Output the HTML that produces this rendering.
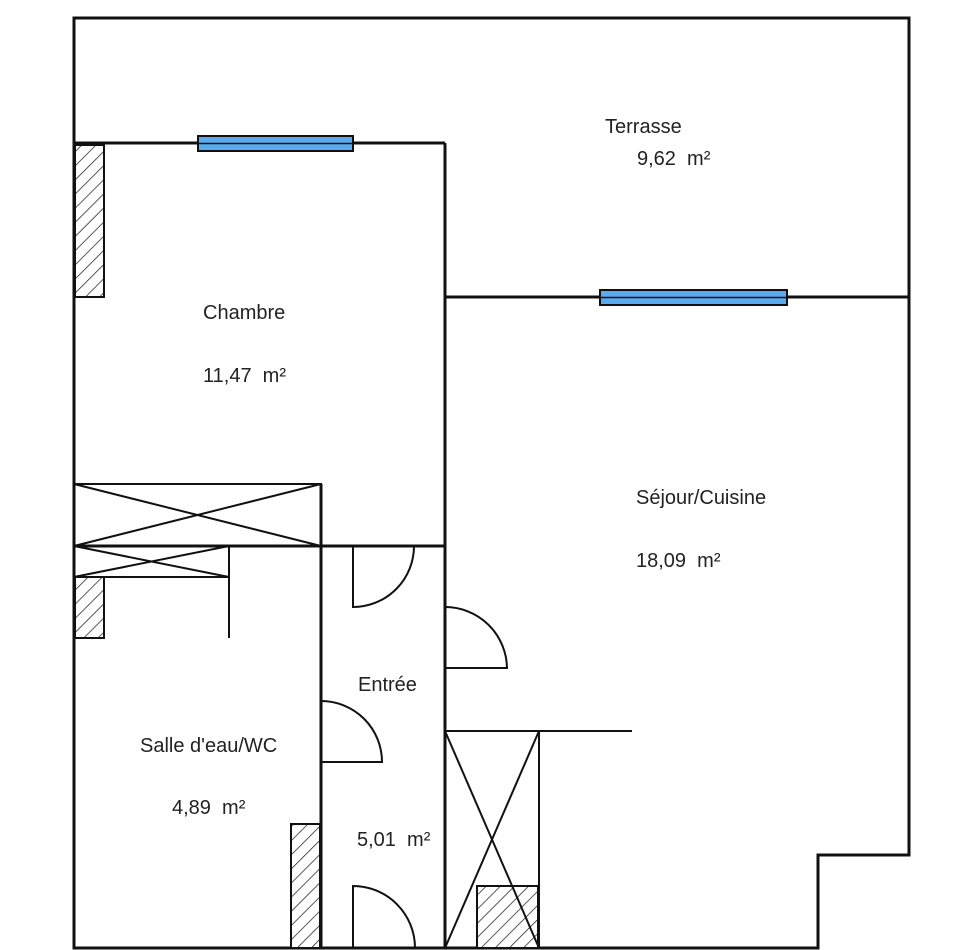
<!DOCTYPE html>
<html><head><meta charset="utf-8"><style>
html,body{margin:0;padding:0;background:#fff;width:956px;height:950px;overflow:hidden}
text{font-family:"Liberation Sans",sans-serif;font-size:20px;fill:#222;white-space:pre}
</style></head><body>
<svg width="956" height="950" viewBox="0 0 956 950" xmlns="http://www.w3.org/2000/svg" xml:space="preserve">
<defs>
<pattern id="h" patternUnits="userSpaceOnUse" width="10" height="10" patternTransform="rotate(45)">
<rect width="10" height="10" fill="#fff"/><line x1="0" y1="0" x2="0" y2="10" stroke="#222" stroke-width="1.5"/>
</pattern>
</defs>
<g stroke="#111" fill="none" stroke-width="3">
<path d="M74 18 H909 V855 H818 V948 H74 Z"/>
<line x1="74" y1="143" x2="445" y2="143"/>
<line x1="445" y1="143" x2="445" y2="948"/>
<line x1="445" y1="297" x2="909" y2="297"/>
<line x1="74" y1="546" x2="445" y2="546"/>
<line x1="321" y1="484" x2="321" y2="948"/>
</g>
<g stroke="#111" stroke-width="2" fill="url(#h)">
<rect x="75" y="145" width="29" height="152"/>
<rect x="75" y="577" width="29" height="61"/>
<rect x="291" y="824" width="29" height="124"/>
<rect x="477" y="886" width="61" height="62"/>
</g>
<g stroke="#111" fill="none" stroke-width="2">
<rect x="74" y="484" width="247" height="62"/>
<line x1="74" y1="484" x2="321" y2="546"/><line x1="74" y1="546" x2="321" y2="484"/>
<rect x="74" y="546" width="155" height="31"/>
<line x1="74" y1="546" x2="229" y2="577"/><line x1="74" y1="577" x2="229" y2="546"/>
<line x1="229" y1="546" x2="229" y2="638"/>
<path d="M353 546 V607 A61 61 0 0 0 414 546"/>
<path d="M445 607 A62 62 0 0 1 507 668 H445"/>
<path d="M321 701 A61 61 0 0 1 382 762 H321"/>
<path d="M353 948 V886 A62 62 0 0 1 415 948"/>
<line x1="445" y1="731" x2="632" y2="731"/>
<rect x="445" y="731" width="94" height="217"/>
<line x1="445" y1="731" x2="539" y2="948"/><line x1="445" y1="948" x2="539" y2="731"/>
</g>
<g stroke="#111" stroke-width="2" fill="#5aaaf0">
<rect x="198" y="136" width="155" height="15"/>
<rect x="600" y="290" width="187" height="15"/>
</g>
<line x1="198" y1="143.5" x2="353" y2="143.5" stroke="#111" stroke-width="1.5"/>
<line x1="600" y1="297.5" x2="787" y2="297.5" stroke="#111" stroke-width="1.5"/>
<text x="605" y="133">Terrasse</text>
<text x="637" y="165">9,62  m²</text>
<text x="203" y="319">Chambre</text>
<text x="203" y="382">11,47  m²</text>
<text x="636" y="504">Séjour/Cuisine</text>
<text x="636" y="567">18,09  m²</text>
<text x="358" y="691">Entrée</text>
<text x="140" y="752">Salle d'eau/WC</text>
<text x="172" y="814">4,89  m²</text>
<text x="357" y="846">5,01  m²</text>
</svg>
</body></html>
